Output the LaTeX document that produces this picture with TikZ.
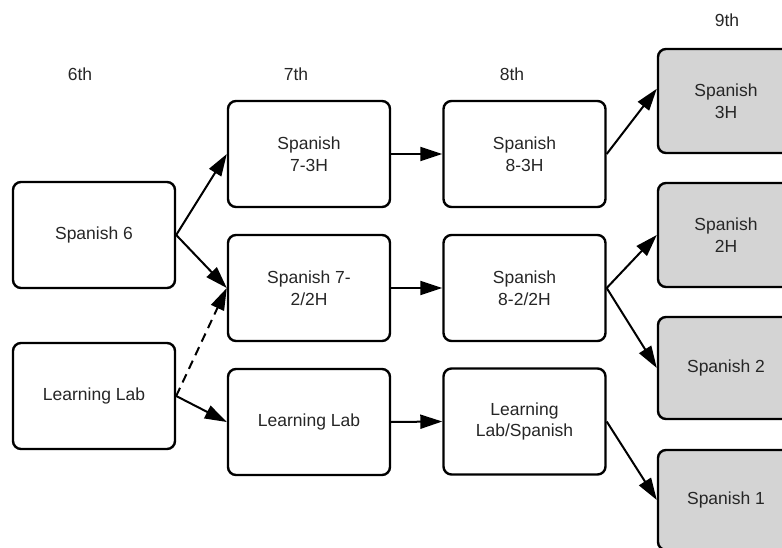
\documentclass[tikz,border=0pt]{standalone}
\usepackage{fontspec}
\setmainfont{Liberation Sans}
\usetikzlibrary{arrows.meta}
\begin{document}
\begin{tikzpicture}[x=1pt,y=-1pt,
  every node/.style={font=\fontsize{17.5}{21.5}\selectfont, text=black!85},
  course/.style={draw=black, line width=2.4pt, rounded corners=8pt,
    minimum width=162pt, minimum height=106pt, align=center, inner sep=0pt},
  exit/.style={course, fill=black!17, minimum width=136pt},
  flow/.style={line width=2pt, -{Triangle[length=22pt,width=14pt]}},
  maybe/.style={flow, dash pattern=on 9pt off 6pt}]
\useasboundingbox (0,0) rectangle (782,548);
\clip (0,0) rectangle (782,548);

% grade headings
\node (g6) at (80,74) {6th};
\node (g7) at (296,74) {7th};
\node (g8) at (512,74) {8th};
\node (g9) at (727,20) {9th};

% 6th grade
\node[course] (s6)  at (94,235) {Spanish 6};
\node[course] (ll6) at (94,396) {Learning Lab};

% 7th grade
\node[course] (s73) at (309,154) {Spanish\\7-3H};
\node[course] (s72) at (309,288) {Spanish 7-\\2/2H};
\node[course] (ll7) at (309,422) {Learning Lab};

% 8th grade
\node[course] (s83) at (524.5,154) {Spanish\\8-3H};
\node[course] (s82) at (524.5,288) {Spanish\\8-2/2H};
\node[course] (lls) at (524.5,421.5) {Learning\\Lab/Spanish};

% 9th grade placements
\node[exit, minimum height=104pt] (s3h) at (726,101) {Spanish\\3H};
\node[exit, minimum height=104pt] (s2h) at (726,235) {Spanish\\2H};
\node[exit, minimum height=102pt] (s2)  at (726,368) {Spanish 2};
\node[exit, minimum height=100pt] (s1)  at (726,500) {Spanish 1};

% pathways
\draw[flow] (s6.east) -- (s73.west);
\draw[flow] (s6.east) -- (s72.west);
\draw[maybe] (ll6.east) -- (s72.west);
\draw[flow] (ll6.east) -- (ll7.west);
\draw[flow] (s73.east) -- (s83.west);
\draw[flow] (s72.east) -- (s82.west);
\draw[flow] (ll7.east) -- (lls.west);
\draw[flow] (s83.east) -- (s3h.170);
\draw[flow] (s82.east) -- (s2h.west);
\draw[flow] (s82.east) -- (s2.west);
\draw[flow] (lls.east) -- (s1.west);
\end{tikzpicture}
\end{document}
